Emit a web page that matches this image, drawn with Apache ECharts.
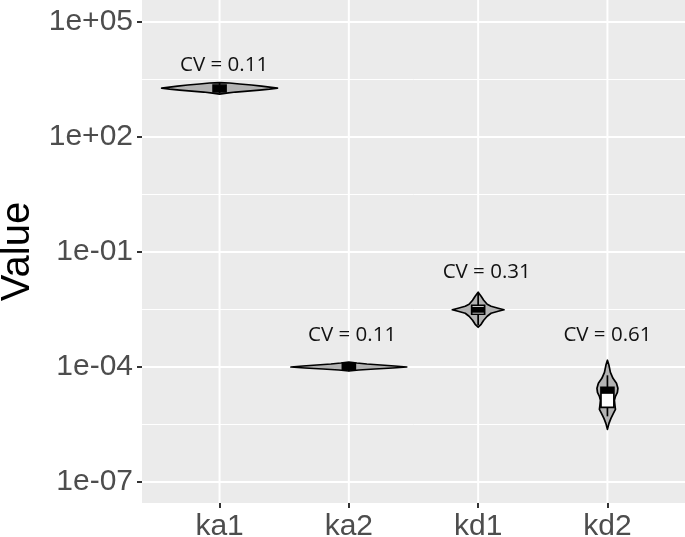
<!DOCTYPE html>
<html><head><meta charset="utf-8">
<script src="https://cdn.jsdelivr.net/npm/echarts@6/dist/echarts.min.js"></script>
<style>html,body{margin:0;padding:0;background:#fff}#c{width:685px;height:537px}</style>
</head><body><div id="c"></div>
<script>
// ---- data ----
const categories = ['ka1', 'ka2', 'kd1', 'kd2'];
// log10 tick positions for labels "1e+05" ... and minor grid
const yTickExponents = [-7, -4, -1, 2, 5];
const yMinorExponents = [-5.5, -2.5, 0.5, 3.5];
const yRangeExponents = [-7.548, 5.574];

// violin outlines: [value, half-width in category units], top to bottom
const violinKa1 = [[2.63e3,0],[2.56e3,0.077],[2.41e3,0.155],[2.27e3,0.247],[2.13e3,0.325],[2.01e3,0.386],[1.89e3,0.448],[1.78e3,0.386],[1.68e3,0.309],[1.58e3,0.216],[1.49e3,0.124],[1.40e3,0.054],[1.32e3,0]];
const violinKa2 = [[1.35e-4,0],[1.272e-4,0.062],[1.198e-4,0.139],[1.128e-4,0.247],[1.062e-4,0.355],[1.0e-4,0.448],[9.42e-5,0.34],[8.87e-5,0.2],[8.35e-5,0.077],[7.86e-5,0]];
const violinKd1 = [[8.91e-3,0],[7.02e-3,0.023],[5.52e-3,0.043],[4.34e-3,0.07],[3.85e-3,0.1],[3.41e-3,0.155],[3.11e-3,0.2],[2.84e-3,0.155],[2.52e-3,0.1],[2.11e-3,0.07],[1.66e-3,0.043],[1.30e-3,0.023],[1.09e-3,0]];
const violinKd2 = [[1.50e-4,0],[1.107e-4,0.012],[7.27e-5,0.023],[5.07e-5,0.043],[3.75e-5,0.07],[2.78e-5,0.081],[2.18e-5,0.077],[1.72e-5,0.062],[1.35e-5,0.054],[1.0e-5,0.058],[7.87e-6,0.062],[6.18e-6,0.046],[4.58e-6,0.027],[3.39e-6,0.012],[2.36e-6,0]];

// box stats: [lower whisker, Q1, median, Q3, upper whisker]
const boxKa1 = [1.36e3, 1.51e3, 1.89e3, 2.27e3, 2.56e3];
const boxKa2 = [7.76e-5, 8.55e-5, 1.0e-4, 1.227e-4, 1.33e-4];
const boxKd1 = [1.23e-3, 2.38e-3, 3.11e-3, 4.08e-3, 8.39e-3];
const boxKd2 = [5.16e-6, 8.87e-6, 2.39e-5, 2.95e-5, 6.07e-5];

// CV annotations
const cvText = ['CV = 0.11', 'CV = 0.11', 'CV = 0.31', 'CV = 0.61'];
const cvValue = [7.3e3, 6.8e-4, 3.0e-2, 6.8e-4];
const cvX = [1.035, 2.025, 3.066, 4.0];

// ---- chart ----
const violins = [violinKa1, violinKa2, violinKd1, violinKd2];
const boxes = [boxKa1, boxKa2, boxKd1, boxKd2];
const L = Math.log10;
const boxHalf = 0.05;

function fmtExp(v) {
  const a = Math.abs(Math.round(v));
  return '1e' + (v < 0 ? '-' : '+') + (a < 10 ? '0' : '') + a;
}

const chart = echarts.init(document.getElementById('c'), null, { renderer: 'canvas' });
chart.setOption({
  animation: false,
  backgroundColor: '#ffffff',
  grid: { left: 142, right: 0, top: 0, bottom: 34, containLabel: false, outerBoundsMode: 'none',
    show: true, backgroundColor: '#EBEBEB', borderWidth: 0 },
  xAxis: {
    type: 'value', min: 0.4, max: 4.6,
    axisLine: { show: false, onZero: false }, splitLine: { show: false },
    axisTick: { show: true, customValues: [1, 2, 3, 4], length: 5, lineStyle: { color: '#333333', width: 2 } },
    axisLabel: { customValues: [1, 2, 3, 4], formatter: v => categories[Math.round(v) - 1],
      fontSize: 30, color: '#4D4D4D', fontFamily: 'Liberation Sans', margin: 9 }
  },
  yAxis: {
    type: 'value', min: yRangeExponents[0], max: yRangeExponents[1],
    name: 'Value', nameLocation: 'middle', nameGap: 104,
    nameTextStyle: { fontSize: 40, color: '#000000', fontFamily: 'Liberation Sans' },
    axisLine: { show: false, onZero: false }, splitLine: { show: false },
    axisTick: { show: true, customValues: yTickExponents, length: 5, lineStyle: { color: '#333333', width: 2 } },
    axisLabel: { customValues: yTickExponents, formatter: fmtExp,
      fontSize: 30, color: '#4D4D4D', fontFamily: 'Liberation Sans', margin: 9 }
  },
  series: [
    { type: 'custom', silent: true, z: 1, data: [[1, 0]],
      renderItem: (params, api) => {
        const cs = params.coordSys;
        const kids = [];
        yMinorExponents.forEach(v => {
          const y = api.coord([1, v])[1];
          kids.push({ type: 'line', shape: { x1: cs.x, y1: y, x2: cs.x + cs.width, y2: y }, style: { stroke: '#ffffff', lineWidth: 1 } });
        });
        yTickExponents.forEach(v => {
          const y = api.coord([1, v])[1];
          kids.push({ type: 'line', shape: { x1: cs.x, y1: y, x2: cs.x + cs.width, y2: y }, style: { stroke: '#ffffff', lineWidth: 2 } });
        });
        categories.forEach((c, i) => {
          const x = api.coord([i + 1, 0])[0];
          kids.push({ type: 'line', shape: { x1: x, y1: cs.y, x2: x, y2: cs.y + cs.height }, style: { stroke: '#ffffff', lineWidth: 2 } });
        });
        return { type: 'group', children: kids };
      } },
    { type: 'custom', silent: true, z: 2, data: categories.map((c, i) => [i + 1, L(boxes[i][2])]),
      renderItem: (params, api) => {
        const i = params.dataIndex, cx = i + 1, prof = violins[i];
        const right = prof.map(p => api.coord([cx + p[1], L(p[0])]));
        const left = prof.slice().reverse().map(p => api.coord([cx - p[1], L(p[0])]));
        return { type: 'polygon', shape: { points: right.concat(left) },
          style: { fill: '#B3B3B3', stroke: '#000000', lineWidth: 1.7, lineJoin: 'round' } };
      } },
    { type: 'custom', silent: true, z: 3, data: categories.map((c, i) => [i + 1, L(boxes[i][2])]),
      renderItem: (params, api) => {
        const i = params.dataIndex, cx = i + 1, b = boxes[i];
        const pLo = api.coord([cx, L(b[0])]), pQ1 = api.coord([cx, L(b[1])]);
        const pQ3 = api.coord([cx, L(b[3])]), pHi = api.coord([cx, L(b[4])]);
        const a = api.coord([cx - boxHalf, L(b[3])]), c2 = api.coord([cx + boxHalf, L(b[1])]);
        const mL = api.coord([cx - boxHalf, L(b[2])]), mR = api.coord([cx + boxHalf, L(b[2])]);
        const ls = { stroke: '#000000', lineWidth: 1.7 };
        return { type: 'group', children: [
          { type: 'line', shape: { x1: pHi[0], y1: pHi[1], x2: pQ3[0], y2: pQ3[1] }, style: ls },
          { type: 'line', shape: { x1: pQ1[0], y1: pQ1[1], x2: pLo[0], y2: pLo[1] }, style: ls },
          { type: 'rect', shape: { x: a[0], y: a[1], width: c2[0] - a[0], height: c2[1] - a[1] },
            style: { fill: '#ffffff', stroke: '#000000', lineWidth: 1.7 } },
          { type: 'line', shape: { x1: mL[0], y1: mL[1], x2: mR[0], y2: mR[1] },
            style: { stroke: '#000000', lineWidth: 6 } }
        ] };
      } },
    { type: 'custom', silent: true, z: 4, data: cvText.map((t, i) => [cvX[i], L(cvValue[i])]),
      renderItem: (params, api) => {
        const p = api.coord([api.value(0), api.value(1)]);
        return { type: 'text', style: { text: cvText[params.dataIndex], x: p[0], y: p[1],
          fill: '#111111', fontSize: 20.5, fontFamily: 'Open Sans', align: 'center', verticalAlign: 'middle' } };
      } }
  ]
});
</script></body></html>
